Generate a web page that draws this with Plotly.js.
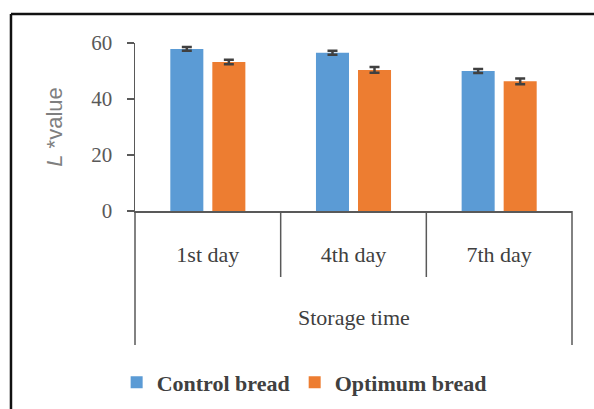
<!DOCTYPE html>
<html>
<head>
<meta charset="utf-8">
<script src="https://cdn.plot.ly/plotly-3.0.1.min.js"></script>
<style>
  html, body { margin: 0; padding: 0; background: #fff; }
  #chart { width: 594px; height: 409px; }
</style>
</head>
<body>
<div id="chart"></div>
<script>
// ---- data ----
const categories = ["1st day", "4th day", "7th day"];
const controlValues = [57.9, 56.5, 50.0];
const controlErrors = [0.7, 0.7, 0.7];
const optimumValues = [53.2, 50.4, 46.3];
const optimumErrors = [0.8, 1.0, 1.0];
const yTicks = [0, 20, 40, 60];
const seriesNames = ["Control bread", "Optimum bread"];
const xTitle = "Storage time";

const serif = "'Liberation Serif', 'Times New Roman', serif";
const lineCol = "#595959";

const traces = [
  {
    type: "bar", name: seriesNames[0], x: categories, y: controlValues,
    marker: { color: "#5B9BD5" },
    error_y: { type: "data", array: controlErrors, visible: true, color: "#404040", thickness: 2.5, width: 5 }
  },
  {
    type: "bar", name: seriesNames[1], x: categories, y: optimumValues,
    marker: { color: "#ED7D31" },
    error_y: { type: "data", array: optimumErrors, visible: true, color: "#404040", thickness: 2.5, width: 5 }
  }
];

const dividerBottomInner = -0.393;
const dividerBottomOuter = -0.798;

const shapes = [
  // outer frame (top and left edges)
  { type: "line", xref: "paper", yref: "paper", x0: -0.2838, x1: 1.06, y0: 1.1726, y1: 1.1726, line: { color: "#111", width: 2.5 } },
  { type: "line", xref: "paper", yref: "paper", x0: -0.2838, x1: -0.2838, y0: 1.1726, y1: -1.2, line: { color: "#111", width: 2.5 } },
  // category group dividers
  { type: "line", xref: "paper", yref: "paper", x0: 0, x1: 0, y0: 0, y1: dividerBottomOuter, line: { color: lineCol, width: 1.5 } },
  { type: "line", xref: "paper", yref: "paper", x0: 1, x1: 1, y0: 0, y1: dividerBottomOuter, line: { color: lineCol, width: 1.5 } },
  { type: "line", xref: "x", yref: "paper", x0: 0.5, x1: 0.5, y0: 0, y1: dividerBottomInner, line: { color: lineCol, width: 1.5 } },
  { type: "line", xref: "x", yref: "paper", x0: 1.5, x1: 1.5, y0: 0, y1: dividerBottomInner, line: { color: lineCol, width: 1.5 } }
];

const layout = {
  width: 594, height: 409,
  margin: { l: 135, r: 22, t: 43, b: 198, autoexpand: false },
  paper_bgcolor: "#ffffff", plot_bgcolor: "#ffffff",
  barmode: "group", bargap: 0.423, bargroupgap: 0.214,
  showlegend: true,
  legend: {
    orientation: "h", x: -0.042, xanchor: "left", y: -1.02, yanchor: "middle",
    font: { family: serif, size: 22, color: "#404040", weight: "bold" },
    itemclick: false, itemdoubleclick: false
  },
  xaxis: {
    type: "category", range: [-0.5, 2.5], fixedrange: true,
    showline: true, linecolor: lineCol, linewidth: 1.5,
    ticks: "", showgrid: false, zeroline: false,
    tickfont: { family: serif, size: 22, color: "#404040" },
    ticklabelstandoff: 23, automargin: false
  },
  yaxis: {
    range: [0, 60], tickvals: yTicks, ticktext: yTicks.map(String), fixedrange: true,
    showline: true, linecolor: lineCol, linewidth: 1.5,
    ticks: "outside", ticklen: 7, tickwidth: 1.5, tickcolor: lineCol,
    showgrid: false, zeroline: false,
    tickfont: { family: serif, size: 21, color: "#595959" },
    ticklabelstandoff: 10, automargin: false,
    title: { text: "<i>L</i> *value", font: { family: "'Liberation Sans', Arial, sans-serif", size: 22, color: "#7f7f7f" }, standoff: 22 }
  },
  annotations: [
    { xref: "paper", yref: "paper", x: 0.5, y: -0.631, text: xTitle, showarrow: false,
      xanchor: "center", yanchor: "middle", font: { family: serif, size: 22, color: "#404040" } }
  ],
  shapes: shapes
};

Plotly.newPlot("chart", traces, layout, { displayModeBar: false, staticPlot: true });
</script>
</body>
</html>
